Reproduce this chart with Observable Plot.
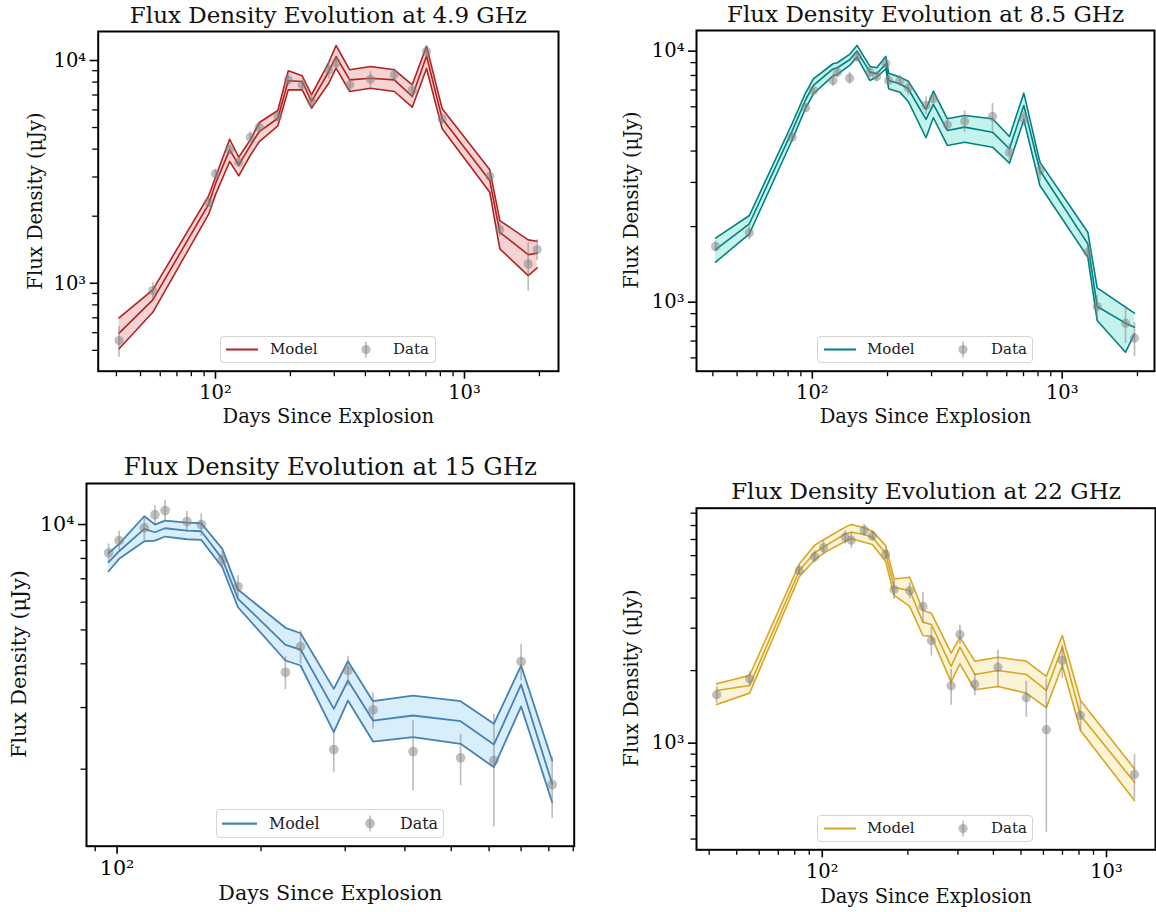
<!DOCTYPE html>
<html><head><meta charset="utf-8">
<script src="https://cdn.jsdelivr.net/npm/d3@7"></script>
<script src="https://cdn.jsdelivr.net/npm/@observablehq/plot@0.6"></script>
<style>
body{margin:0;background:#fff;}
#root{position:relative;width:1156px;height:912px;font-family:"DejaVu Serif",serif;overflow:hidden;}
#root > svg{position:absolute;overflow:visible;}
.legend{position:absolute;box-sizing:border-box;border:1px solid #d4d4d4;border-radius:4px;background:rgba(255,255,255,0.85);color:#222;}
.legend span{position:absolute;top:0;white-space:nowrap;}
.legend svg{position:absolute;left:0;top:0;}
.ylab{position:absolute;text-align:center;white-space:nowrap;color:#111;transform:rotate(-90deg);transform-origin:50% 50%;}
</style></head><body><div id="root"></div><script>
// ---------- 4.9 GHz ----------
const days49 = [41, 56, 94, 100, 114, 124, 138, 150, 178, 196, 223, 243, 285, 305, 346, 419, 523, 617, 704, 814, 1264, 1387, 1803, 1959];
const flux49 = [553, 927, 2310, 3099, 3985, 3494, 4524, 5018, 5604, 8190, 7779, 6544, 9084, 9725, 7779, 8241, 8625, 7334, 10975, 5472, 3023, 1742, 1222, 1417];
const err49 = [87, 83, 120, 150, 200, 180, 270, 300, 300, 490, 400, 500, 800, 600, 520, 660, 600, 570, 650, 280, 120, 120, 300, 150];
const modelLo49 = [508, 741, 2049, 2500, 3520, 3035, 3756, 4327, 5091, 7386, 7386, 6107, 7909, 9235, 7258, 7510, 7258, 6171, 9206, 4935, 2562, 1427, 1083, 1173];
const modelMid49 = [597, 842, 2273, 2800, 3972, 3402, 4152, 4799, 5507, 8108, 8050, 6544, 8925, 10423, 8190, 8327, 8190, 6891, 10476, 5472, 2892, 1694, 1345, 1363];
const modelHi49 = [699, 934, 2476, 2990, 4431, 3679, 4405, 5267, 5964, 8990, 8537, 7015, 9795, 11678, 9084, 9399, 9084, 7779, 11592, 6069, 3230, 1912, 1566, 1544];

// ---------- 8.5 GHz ----------
const days85 = [41, 56, 83, 94, 101, 121, 126, 141, 151, 170, 181, 197, 202, 224, 242, 285, 305, 347, 407, 526, 615, 702, 814, 1266, 1380, 1792, 1946];
const flux85 = [1667, 1890, 4543, 5950, 6971, 7643, 8248, 7806, 9500, 8248, 7930, 8908, 7643, 7622, 7148, 6077, 6461, 5091, 5261, 5493, 3959, 5378, 3347, 1582, 961, 825, 719];
const err85 = [85, 120, 210, 220, 250, 420, 400, 430, 440, 380, 370, 410, 350, 400, 500, 500, 300, 240, 530, 700, 310, 350, 320, 110, 105, 140, 113];
const modelLo85 = [1443, 1873, 4428, 5928, 6764, 7966, 8077, 8770, 9465, 7643, 7880, 8509, 7083, 6865, 6303, 4519, 5428, 4210, 4339, 4145, 3579, 5330, 2917, 1511, 845, 632, 748];
const modelMid85 = [1618, 2053, 4800, 6403, 7301, 8494, 8588, 9242, 10000, 8248, 8128, 8908, 7643, 7415, 7083, 5344, 6134, 4831, 4980, 4756, 4086, 6077, 3347, 1708, 961, 825, 795];
const modelHi85 = [1799, 2215, 5138, 6826, 7762, 8908, 8990, 9703, 10537, 8690, 8588, 9526, 8173, 7880, 7594, 5858, 6927, 5378, 5544, 5378, 4573, 6801, 3612, 1900, 1141, 955, 904];

// ---------- 15 GHz ----------
const days15 = [96, 101, 114, 120, 126, 140, 150, 166, 179, 225, 242, 284, 304, 343, 416, 523, 614, 700, 813];
const flux15 = [8302, 9000, 9786, 10659, 10965, 10200, 10000, 7943, 6650, 3784, 4482, 2276, 3827, 2955, 2246, 2155, 2117, 4061, 1808];
const err15 = [500, 575, 775, 660, 740, 690, 740, 430, 490, 410, 490, 315, 375, 350, 510, 360, 750, 480, 360];
const modelLo15 = [7355, 7980, 8960, 9000, 9242, 9078, 9043, 7551, 5804, 4088, 3956, 2551, 3142, 2399, 2468, 2363, 2026, 3020, 1609];
const modelMid15 = [7804, 8390, 9720, 9506, 9759, 9613, 9569, 7980, 6134, 4532, 4394, 2975, 3584, 2754, 2847, 2742, 2352, 3491, 1816];
const modelHi15 = [8279, 8808, 10561, 10000, 10266, 10132, 10086, 8523, 6520, 5069, 4891, 3393, 4069, 3128, 3247, 3128, 2695, 3956, 2117];

// ---------- 22 GHz ----------
const days22 = [42.5, 55.5, 83, 94, 101, 120.5, 126.5, 140.5, 150, 167, 179, 203, 226, 242, 284, 305, 344, 415, 522, 614, 699, 810, 1254];
const flux22 = [1588, 1850, 5206, 5940, 6475, 7157, 6954, 7651, 7240, 6067, 4342, 4289, 3692, 2660, 1730, 2825, 1757, 2067, 1543, 1137, 2204, 1303, 742];
const err22 = [125, 130, 250, 340, 425, 470, 510, 435, 350, 300, 400, 320, 535, 360, 295, 260, 183, 370, 262, 710, 350, 175, 155];
const modelLo22 = [1447, 1613, 4903, 5768, 6144, 6888, 7047, 6823, 6674, 5692, 4102, 3692, 2798, 2780, 1791, 2135, 1666, 1719, 1613, 1403, 2101, 1129, 578];
const modelMid22 = [1655, 1735, 5206, 6166, 6506, 7394, 7508, 7345, 7157, 6144, 4428, 4301, 3178, 3108, 2081, 2502, 1928, 2003, 1928, 1655, 2502, 1303, 689];
const modelHi22 = [1764, 1909, 5541, 6630, 6982, 7878, 8084, 7832, 7581, 6611, 4800, 4884, 3553, 3463, 2363, 2754, 2189, 2274, 2189, 1891, 2798, 1504, 783];

// tick values
const majorTicks = [100, 1000, 10000];
const minorTicks = [40, 50, 60, 70, 80, 90, 200, 300, 400, 500, 600, 700, 800, 900, 2000, 3000, 4000, 5000, 6000, 7000, 8000, 9000];

const titles = ["Flux Density Evolution at 4.9 GHz", "Flux Density Evolution at 8.5 GHz", "Flux Density Evolution at 15 GHz", "Flux Density Evolution at 22 GHz"];
const xLabel = "Days Since Explosion";
const yLabel = "Flux Density (\u03bcJy)";
const legendLabels = ["Model", "Data"];

const SUP = {"0":"\u2070","1":"\u00b9","2":"\u00b2","3":"\u00b3","4":"\u2074","5":"\u2075","6":"\u2076","7":"\u2077","8":"\u2078","9":"\u2079"};
const sup = v => "10" + String(Math.round(Math.log10(v))).split("").map(c => SUP[c]).join("");

const root = document.getElementById("root");

function panel(p) {
  const rows = p.days.map((d, i) => ({d, f: p.flux[i], e: p.err[i], lo: p.lo[i], mid: p.mid[i], hi: p.hi[i]}));
  const inX = v => v >= p.xDomain[0] && v <= p.xDomain[1];
  const inY = v => v >= p.yDomain[0] && v <= p.yDomain[1];
  const s = p.scale;
  const svg = Plot.plot({
    width: p.w, height: p.h,
    marginLeft: p.ml, marginRight: p.mr, marginTop: p.mt, marginBottom: p.mb,
    style: {fontFamily: "DejaVu Serif", background: "transparent", overflow: "visible"},
    x: {type: "log", domain: p.xDomain, axis: null, label: null},
    y: {type: "log", domain: p.yDomain, axis: null, label: null},
    marks: [
      Plot.areaY(rows, {x: "d", y1: "lo", y2: "hi", fill: p.fill}),
      Plot.line(rows, {x: "d", y: "lo", stroke: p.color, strokeWidth: p.lw}),
      Plot.line(rows, {x: "d", y: "hi", stroke: p.color, strokeWidth: p.lw}),
      Plot.line(rows, {x: "d", y: "mid", stroke: p.color, strokeWidth: p.lw}),
      Plot.ruleX(rows, {x: "d", y1: r => r.f - r.e, y2: r => r.f + r.e, stroke: "#808080", strokeOpacity: 0.5, strokeWidth: 1.7}),
      Plot.dot(rows, {x: "d", y: "f", r: 4.6 * s, fill: "#808080", fillOpacity: 0.5}),
      Plot.axisX({ticks: minorTicks.filter(inX), tickSize: 5.5, tickFormat: () => "", strokeWidth: 1.3, label: null}),
      Plot.axisX({ticks: majorTicks.filter(inX), tickSize: 8, tickPadding: 6, tickFormat: sup, strokeWidth: 1.6, fontSize: `${19.5 * s}px`, label: null}),
      Plot.axisY({ticks: minorTicks.filter(inY), tickSize: 5.5, tickFormat: () => "", strokeWidth: 1.3, label: null}),
      Plot.axisY({ticks: majorTicks.filter(inY), tickSize: 8, tickPadding: 4, tickFormat: sup, strokeWidth: 1.6, fontSize: `${19.5 * s}px`, label: null}),
      Plot.frame({stroke: "black", strokeWidth: 2}),
      Plot.text([p.title], {text: d => d, frameAnchor: "top", lineAnchor: "bottom", dy: -9, fontSize: `${23 * s}px`, fill: "#111"}),
      Plot.text([xLabel], {text: d => d, frameAnchor: "bottom", dy: p.xlDy, fontSize: `${19.5 * s}px`, fill: "#111"})
    ]
  });
  svg.style.left = p.left + "px";
  svg.style.top = p.top + "px";
  root.appendChild(svg);

  // y-axis label (rotated real text)
  const yl = document.createElement("div");
  yl.className = "ylab";
  const lw = 260, lh = 26;
  Object.assign(yl.style, {left: (p.ylX - lw / 2) + "px", top: (p.ylY - lh / 2) + "px", width: lw + "px", height: lh + "px", lineHeight: lh + "px", fontSize: (19.5 * s) + "px"});
  yl.textContent = yLabel;
  root.appendChild(yl);

  // legend (real text)
  const L = p.legend;
  const div = document.createElement("div");
  div.className = "legend";
  Object.assign(div.style, {left: L.x + "px", top: L.y + "px", width: L.w + "px", height: L.h + "px", fontSize: (15 * s) + "px", lineHeight: (L.h - 2) + "px"});
  const cy = (L.h - 2) / 2;
  div.innerHTML =
    `<svg width="${L.w}" height="${L.h}">` +
    `<line x1="${L.s0}" x2="${L.s1}" y1="${cy}" y2="${cy}" stroke="${p.color}" stroke-width="${p.lw * 1.25}"/>` +
    `<line x1="${L.m}" x2="${L.m}" y1="${cy - 8}" y2="${cy + 8}" stroke="#808080" stroke-opacity="0.5" stroke-width="1.7"/>` +
    `<circle cx="${L.m}" cy="${cy}" r="${4.6 * s}" fill="#808080" fill-opacity="0.5"/></svg>` +
    `<span style="left:${L.t1}px">${legendLabels[0]}</span><span style="left:${L.t2}px">${legendLabels[1]}</span>`;
  root.appendChild(div);
}

panel({days: days49, flux: flux49, err: err49, lo: modelLo49, mid: modelMid49, hi: modelHi49,
  color: "#b22222", fill: "#f6d3d3", lw: 1.6, scale: 1, title: titles[0],
  xDomain: [33.8, 2386], yDomain: [403, 13497],
  left: 0, top: 0, w: 590, h: 440, ml: 97.7, mr: 32, mt: 31, mb: 69.3, xlDy: 52, ylX: 36, ylY: 201,
  legend: {x: 220, y: 336, w: 216, h: 27, s0: 5, s1: 37, m: 145, t1: 49, t2: 172}});

panel({days: days85, flux: flux85, err: err85, lo: modelLo85, mid: modelMid85, hi: modelHi85,
  color: "#008080", fill: "#c4f3ee", lw: 1.6, scale: 1, title: titles[1],
  xDomain: [34.4, 2340], yDomain: [531, 12085],
  left: 590, top: 0, w: 566, h: 440, ml: 106, mr: 2, mt: 30, mb: 69.3, xlDy: 52, ylX: 632, ylY: 200,
  legend: {x: 817, y: 336, w: 216, h: 27, s0: 6, s1: 38, m: 145, t1: 49, t2: 173}});

panel({days: days15, flux: flux15, err: err15, lo: modelLo15, mid: modelMid15, hi: modelHi15,
  color: "#4682b4", fill: "#d8eefb", lw: 1.8, scale: 1.06, title: titles[2],
  xDomain: [86.3, 904], yDomain: [1205, 13100],
  left: 0, top: 440, w: 590, h: 472, ml: 86, mr: 16.3, mt: 43, mb: 66.3, xlDy: 54, ylX: 19, ylY: 664,
  legend: {x: 216, y: 809, w: 228, h: 29, s0: 5, s1: 40, m: 153, t1: 52, t2: 183}});

panel({days: days22, flux: flux22, err: err22, lo: modelLo22, mid: modelMid22, hi: modelHi22,
  color: "#daa520", fill: "#faf3d6", lw: 1.6, scale: 1, title: titles[3],
  xDomain: [36.1, 1487], yDomain: [361, 9440],
  left: 590, top: 440, w: 566, h: 472, ml: 106, mr: 1, mt: 67.7, mb: 62.7, xlDy: 53, ylX: 632, ylY: 678,
  legend: {x: 817, y: 815, w: 216, h: 27, s0: 6, s1: 38, m: 145, t1: 49, t2: 173}});
</script></body></html>
